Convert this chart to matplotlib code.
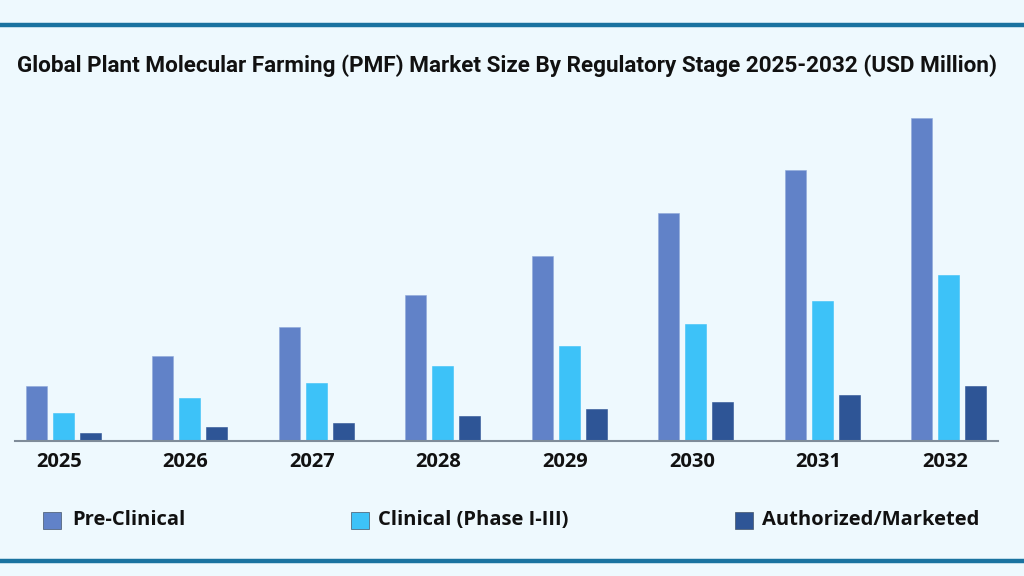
import matplotlib
matplotlib.use("Agg")
import matplotlib.pyplot as plt
from matplotlib.patches import Rectangle
from matplotlib.lines import Line2D

years = ["2025", "2026", "2027", "2028", "2029", "2030", "2031", "2032"]
pre_clinical = [55, 85, 114, 146, 185, 228, 271, 323]
clinical = [28, 43, 58, 75, 95, 117, 140, 166]
authorized = [8, 14, 18, 25, 32, 39, 46, 55]
series_names = ["Pre-Clinical", "Clinical (Phase I-III)", "Authorized/Marketed"]
colors = ["#6182C8", "#3DC2F8", "#2E5596"]
title = "Global Plant Molecular Farming (PMF) Market Size By Regulatory Stage 2025-2032 (USD Million)"

W, H = 1024, 576
bg = "#EEF9FE"
fig = plt.figure(figsize=(W / 100, H / 100), dpi=100, facecolor=bg)

# axes: baseline at y=441px, spans x 15..998
ax = fig.add_axes([15 / W, (H - 441) / H, 983 / W, 341 / H])
ax.set_facecolor(bg)
ax.patch.set_alpha(0)

ppu = 126.57
x = list(range(len(years)))
bw = 21 / ppu
off = 27 / ppu
for k, vals in enumerate([pre_clinical, clinical, authorized]):
    ax.bar([xi + (k - 1) * off for xi in x], vals, width=bw, color=colors[k],
           edgecolor="#8FA9DA" if k == 0 else colors[k], linewidth=0.4, zorder=2)

ax.set_xlim(-(63 - 15) / ppu, 7 + (998 - 949) / ppu)
ax.set_ylim(0, 341)
for s in ["top", "right", "left"]:
    ax.spines[s].set_visible(False)
ax.spines["bottom"].set_color("#7F8C99")
ax.spines["bottom"].set_linewidth(1.5)
ax.set_yticks([])
ax.set_xticks([xi - 4 / ppu for xi in x])
ax.set_xticklabels(years, fontfamily="Open Sans", fontweight="bold", fontsize=14.5, color="#111111")
ax.tick_params(axis="x", length=0, pad=8)

# title
fig.text(507 / W, 1 - 66 / H, title, ha="center", va="center",
         fontfamily="Roboto", fontweight="bold", fontsize=16.2, color="#111111")

# decorative lines
fig.add_artist(Line2D([0, 1], [1 - 25 / H, 1 - 25 / H], color="#1A73A0", linewidth=3.2))
fig.add_artist(Line2D([0, 1], [1 - 560.5 / H, 1 - 560.5 / H], color="#1A73A0", linewidth=3.2))

# legend
leg = [(43, 72), (351, 378), (735, 762)]
for (sx, tx), name, c in zip(leg, series_names, colors):
    fig.add_artist(Rectangle((sx / W, 1 - 529 / H), 18 / W, 17 / H, facecolor=c,
                             edgecolor="#44556A", linewidth=0.5, transform=fig.transFigure))
    fig.text(tx / W, 1 - 520 / H, name, ha="left", va="center",
             fontfamily="Open Sans", fontweight="bold", fontsize=14.5, color="#111111")

fig.savefig("out.png", dpi=100, facecolor=bg)
